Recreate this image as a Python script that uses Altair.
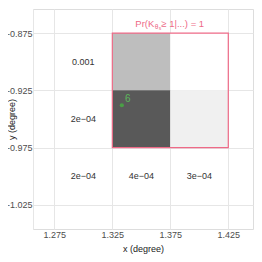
import altair as alt
import pandas as pd

# ---- data ----
cell_x = [1.35, 1.40, 1.35, 1.40]
cell_y = [-0.90, -0.90, -0.95, -0.95]
cell_fill = ["#bebebe", "#ffffff", "#595959", "#f0f0f0"]

text_x = [1.30, 1.30, 1.30, 1.35, 1.40]
text_y = [-0.90, -0.95, -1.00, -1.00, -1.00]
text_lab = ["0.001", "2e\u221204", "2e\u221204", "4e\u221204", "3e\u221204"]

box_x = [1.325]
box_x2 = [1.425]
box_y = [-0.875]
box_y2 = [-0.975]

pt_x = [1.3332]
pt_y = [-0.938]
pt_lab = ["6"]

ann_x = [1.375]
ann_y = [-0.875]

x_ticks = [1.275, 1.325, 1.375, 1.425]
y_ticks = [-0.875, -0.925, -0.975, -1.025]

half = 0.025
cells = pd.DataFrame({"x": cell_x, "y": cell_y, "fill": cell_fill})
cells["x1"] = cells["x"] - half
cells["x2"] = cells["x"] + half
cells["y1"] = cells["y"] - half
cells["y2"] = cells["y"] + half
texts = pd.DataFrame({"x": text_x, "y": text_y, "lab": text_lab})
box = pd.DataFrame({"x": box_x, "x2": box_x2, "y": box_y, "y2": box_y2})
pts = pd.DataFrame({"x": pt_x, "y": pt_y, "lab": pt_lab})
ann = pd.DataFrame({"x": ann_x, "y": ann_y})

FONT = "Liberation Sans"
PINK = "#ee6a87"

xs = alt.Scale(domain=[1.2566, 1.4463], nice=False, zero=False)
ys = alt.Scale(domain=[-1.046, -0.854], nice=False, zero=False)

lab_expr = "replace(format(datum.value, '.3f'), '\u2212', '-')"

xaxis = alt.Axis(values=x_ticks, title="x (degree)", grid=True, gridColor="#e6e6e6",
                 ticks=False, domain=False, labelExpr=lab_expr, labelFont=FONT,
                 labelFontSize=9, labelColor="#4d4d4d", labelPadding=1,
                 titleFont=FONT, titleFontSize=9, titleFontWeight="normal",
                 titleColor="#1a1a1a", titlePadding=5)
yaxis = alt.Axis(values=y_ticks, title="y (degree)", grid=True, gridColor="#e6e6e6",
                 ticks=False, domain=True, domainColor="#e6e6e6", labelExpr=lab_expr,
                 labelFont=FONT, labelFontSize=9, labelColor="#4d4d4d", labelPadding=1,
                 titleFont=FONT, titleFontSize=9, titleFontWeight="normal",
                 titleColor="#1a1a1a", titlePadding=0, titleX=-17)

base_rect = alt.Chart(cells).mark_rect(strokeWidth=0).encode(
    x=alt.X("x1:Q", scale=xs, axis=xaxis),
    x2="x2:Q",
    y=alt.Y("y1:Q", scale=ys, axis=yaxis),
    y2="y2:Q",
    fill=alt.Fill("fill:N", scale=None),
)

txt = alt.Chart(texts).mark_text(font=FONT, fontSize=9, color="#333333").encode(
    x=alt.X("x:Q", scale=xs), y=alt.Y("y:Q", scale=ys), text="lab:N")

boxl = alt.Chart(box).mark_rect(fill=None, fillOpacity=0, stroke=PINK, strokeWidth=1.2).encode(
    x=alt.X("x:Q", scale=xs), x2="x2:Q", y=alt.Y("y:Q", scale=ys), y2="y2:Q")

pt = alt.Chart(pts).mark_circle(size=18, color="#4a9e46", opacity=1).encode(
    x=alt.X("x:Q", scale=xs), y=alt.Y("y:Q", scale=ys))
ptl = alt.Chart(pts).mark_text(font=FONT, fontSize=10, color="#5cb85c", dx=6, dy=-6).encode(
    x=alt.X("x:Q", scale=xs), y=alt.Y("y:Q", scale=ys), text="lab:N")

def ann_piece(s, dx, dy, size):
    return alt.Chart(ann).mark_text(font=FONT, fontSize=size, color=PINK, align="left",
                                    baseline="alphabetic", dx=dx, dy=dy).encode(
        x=alt.X("x:Q", scale=xs), y=alt.Y("y:Q", scale=ys), text=alt.value(s))

a1 = ann_piece("Pr(K", -35, -6, 9.5)
a2 = ann_piece("\u03b8", -15.5, -4, 6.5)
a3 = ann_piece("s", -11.5, -3, 5)
a4 = ann_piece(" \u2265 1|...) = 1", -9, -6, 9.5)

chart = alt.layer(base_rect, txt, boxl, pt, ptl, a1, a2, a3, a4).properties(
    width=220, height=220,
    autosize=alt.AutoSizeParams(type="none"),
    padding={"left": 25, "top": 1, "right": 1, "bottom": 33},
).configure_view(stroke=None).configure(background="white")

chart.save("out.html", embed_options={"renderer": "svg", "actions": False})
